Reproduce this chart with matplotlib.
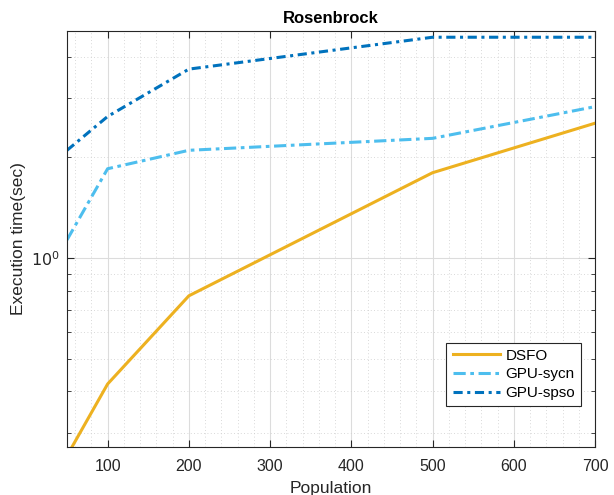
import numpy as np
import matplotlib.pyplot as plt
from matplotlib.ticker import FixedLocator, NullFormatter

plt.rcParams['font.family'] = ['Liberation Sans', 'DejaVu Sans']

population = [50, 100, 200, 500, 700]
dsfo = [0.257, 0.421, 0.772, 1.80, 2.53]
gpu_sycn = [1.134, 1.85, 2.10, 2.28, 2.835]
gpu_spso = [2.10, 2.65, 3.67, 4.57, 4.57]

fig = plt.figure(figsize=(6.14, 4.95), dpi=100)
ax = fig.add_axes([67/614, 1 - 447/495, (595-67)/614, (447-31)/495])

ax.plot(population, dsfo, '-', color='#EDB120', lw=2.2, label='DSFO')
ax.plot(population, gpu_sycn, color='#4DBEEE', lw=2.2, dashes=(4, 1.5, 1.2, 1.5), label='GPU-sycn')
ax.plot(population, gpu_spso, color='#0072BD', lw=2.2, dashes=(3, 1.5, 1, 1.5), label='GPU-spso')

ax.set_yscale('log')
ax.set_xlim(50, 700)
ax.set_ylim(0.273, 4.77)

ax.xaxis.set_major_locator(FixedLocator([100, 200, 300, 400, 500, 600, 700]))
ax.xaxis.set_minor_locator(FixedLocator(np.arange(60, 700, 20)))
ax.yaxis.set_major_locator(FixedLocator([1]))
ax.yaxis.set_major_formatter(plt.FuncFormatter(lambda v, p: r'$10^{0}$'))
ax.yaxis.set_minor_locator(FixedLocator([0.3, 0.4, 0.5, 0.6, 0.7, 0.8, 0.9, 2, 3, 4]))
ax.yaxis.set_minor_formatter(NullFormatter())

ax.grid(True, which='major', color='#dcdcdc', lw=0.8)
ax.grid(True, which='minor', color='#cccccc', lw=0.6, ls=(0, (1, 3)))
ax.set_axisbelow(True)

ax.tick_params(which='both', direction='in', top=True, right=True, labelsize=11.5, colors='#262626')
ax.tick_params(which='major', length=5, width=0.8)
ax.tick_params(which='minor', length=3, width=0.6)
ax.tick_params(axis='x', which='minor', length=0)
ax.tick_params(axis='x', which='major', pad=8.5)
ax.tick_params(axis='y', which='major', pad=5)
for s in ax.spines.values():
    s.set_color('#262626')
    s.set_linewidth(0.8)

ax.set_title('Rosenbrock', fontsize=12, fontweight='bold', pad=6)
ax.set_xlabel('Population', fontsize=12.5, color='#262626', labelpad=5)
ax.set_ylabel('Execution time(sec)', fontsize=12.5, color='#262626', labelpad=4)

leg = ax.legend(loc='lower right', bbox_to_anchor=(0.9735, 0.0986), borderaxespad=0,
                fontsize=11, fancybox=False, framealpha=1, edgecolor='#262626',
                handlelength=3.1, borderpad=0.4, labelspacing=0.3, handletextpad=0.35)
leg.get_frame().set_linewidth(0.8)

fig.savefig('out.png', dpi=100)
